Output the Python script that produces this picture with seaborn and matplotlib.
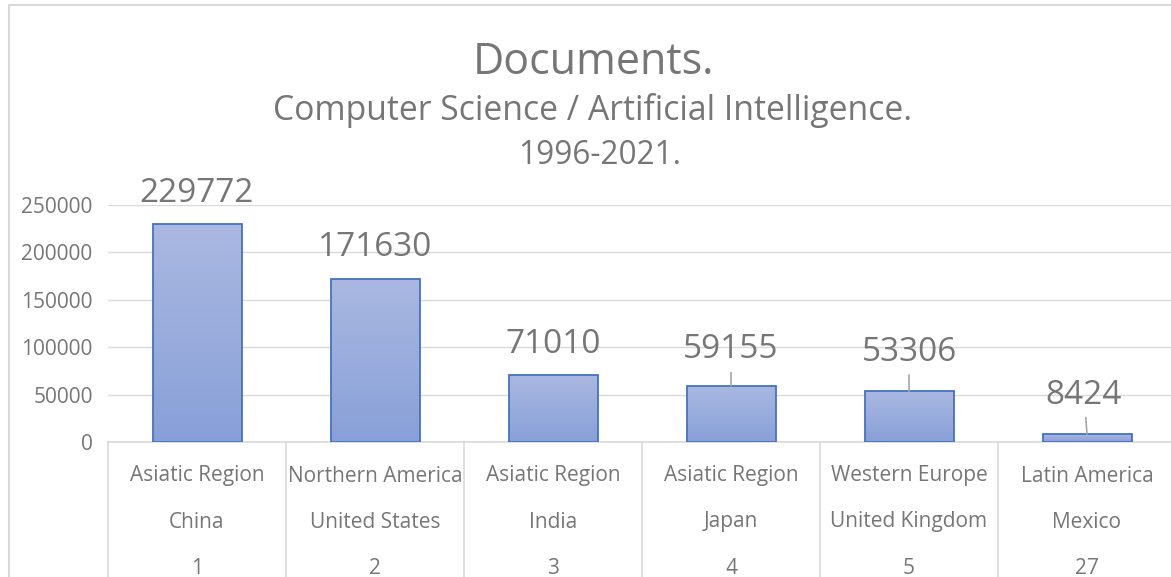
import numpy as np
import pandas as pd
import seaborn as sns
import matplotlib.pyplot as plt
from matplotlib.lines import Line2D
import matplotlib.transforms as mtransforms

# data
regions = ["Asiatic Region", "Northern America", "Asiatic Region",
           "Asiatic Region", "Western Europe", "Latin America"]
countries = ["China", "United States", "India", "Japan",
             "United Kingdom", "Mexico"]
ranks = ["1", "2", "3", "4", "5", "27"]
documents = [229772, 171630, 71010, 59155, 53306, 8424]

df = pd.DataFrame({"Country": countries, "Documents": documents})

GRAY_TXT = "#767676"
GRID = "#d9d9d9"
EDGE = "#4472c4"
TOP_COL = np.array([0xaa, 0xb8, 0xe1]) / 255
BOT_COL = np.array([0x88, 0xa0, 0xd8]) / 255

sns.set_theme(style="white")
plt.rcParams["font.family"] = ["Open Sans", "DejaVu Sans"]

W, H = 1171, 577
fig = plt.figure(figsize=(W / 100, H / 100), dpi=100)
# plot area in pixels: x 108..1176, y 205..442
ax = fig.add_axes([108 / W, (H - 442) / H, (1176 - 108) / W, (442 - 205) / H])

sns.barplot(data=df, x="Country", y="Documents", ax=ax, color="#a0b0dd",
            width=0.5, edgecolor=EDGE, linewidth=1.3, zorder=3)

# gradient fill for every bar
grad = np.linspace(0, 1, 256)[:, None]
grad_img = BOT_COL[None, None, :] * (1 - grad[:, :, None]) + TOP_COL[None, None, :] * grad[:, :, None]
for p in ax.patches:
    x0, w, h = p.get_x(), p.get_width(), p.get_height()
    im = ax.imshow(grad_img, extent=[x0, x0 + w, 0, h], origin="lower",
                   aspect="auto", zorder=2)
    im.set_clip_path(p)
    p.set_facecolor("none")

ax.set_xlim(-0.5, len(countries) - 0.5)
ax.set_ylim(0, 250000)
ax.set_yticks(np.arange(0, 250001, 50000))
ax.yaxis.grid(True, color=GRID, lw=1)
ax.set_axisbelow(True)
for s in ["left", "right", "top"]:
    ax.spines[s].set_visible(False)
ax.spines["bottom"].set_color(GRID)
ax.spines["bottom"].set_linewidth(1.2)
ax.tick_params(axis="y", length=0, pad=11, labelsize=15, labelcolor=GRAY_TXT)
ax.tick_params(axis="x", length=0, labelbottom=False)
ax.set_xlabel("")
ax.set_ylabel("")

# multi-level category axis
trans = mtransforms.blended_transform_factory(ax.transData, ax.transAxes)
for i in range(len(countries)):
    for j, row in enumerate([regions, countries, ranks]):
        ax.annotate(row[i], xy=(i, 0), xycoords=trans,
                    xytext=(0, -(34 + 46 * j) * 0.72), textcoords="offset points",
                    ha="center", va="center", fontsize=15, color=GRAY_TXT,
                    annotation_clip=False)
for k in range(len(countries) + 1):
    ax.add_line(Line2D([k - 0.5, k - 0.5], [0, -0.62], transform=trans,
                       color=GRID, lw=1.2, clip_on=False))

# data labels (last three with leader lines)
lift_px = [31, 32, 30, 36, 39, 39]
shift_px = [0, 0, 0, 0, 0, -3]
leader = [False, False, False, True, True, True]
for i, v in enumerate(documents):
    kw = {}
    if leader[i]:
        kw["arrowprops"] = dict(arrowstyle="-", color="#a6a6a6", lw=1.2,
                                shrinkA=2, shrinkB=0)
    ax.annotate(f"{v}", xy=(i, v), xytext=(shift_px[i] * 0.72, lift_px[i] * 0.72),
                textcoords="offset points", ha="center", va="center",
                fontsize=24, color=GRAY_TXT, annotation_clip=False, **kw)

# titles
fig.text(593 / W, 1 - 63 / H, "Documents.", ha="center", va="center",
         fontsize=31, color=GRAY_TXT)
fig.text(593 / W, 1 - 111 / H, "Computer Science / Artificial Intelligence.",
         ha="center", va="center", fontsize=24.3, color=GRAY_TXT)
fig.text(600 / W, 1 - 155 / H, "1996-2021.", ha="center", va="center",
         fontsize=22.7, color=GRAY_TXT)

# chart border (left and top edges visible)
fig.add_artist(Line2D([9 / W, 9 / W], [0, 1 - 5 / H], transform=fig.transFigure,
                      color=GRID, lw=1.5))
fig.add_artist(Line2D([9 / W, 1], [1 - 5 / H, 1 - 5 / H], transform=fig.transFigure,
                      color=GRID, lw=1.5))

fig.savefig("out.png", dpi=100)
